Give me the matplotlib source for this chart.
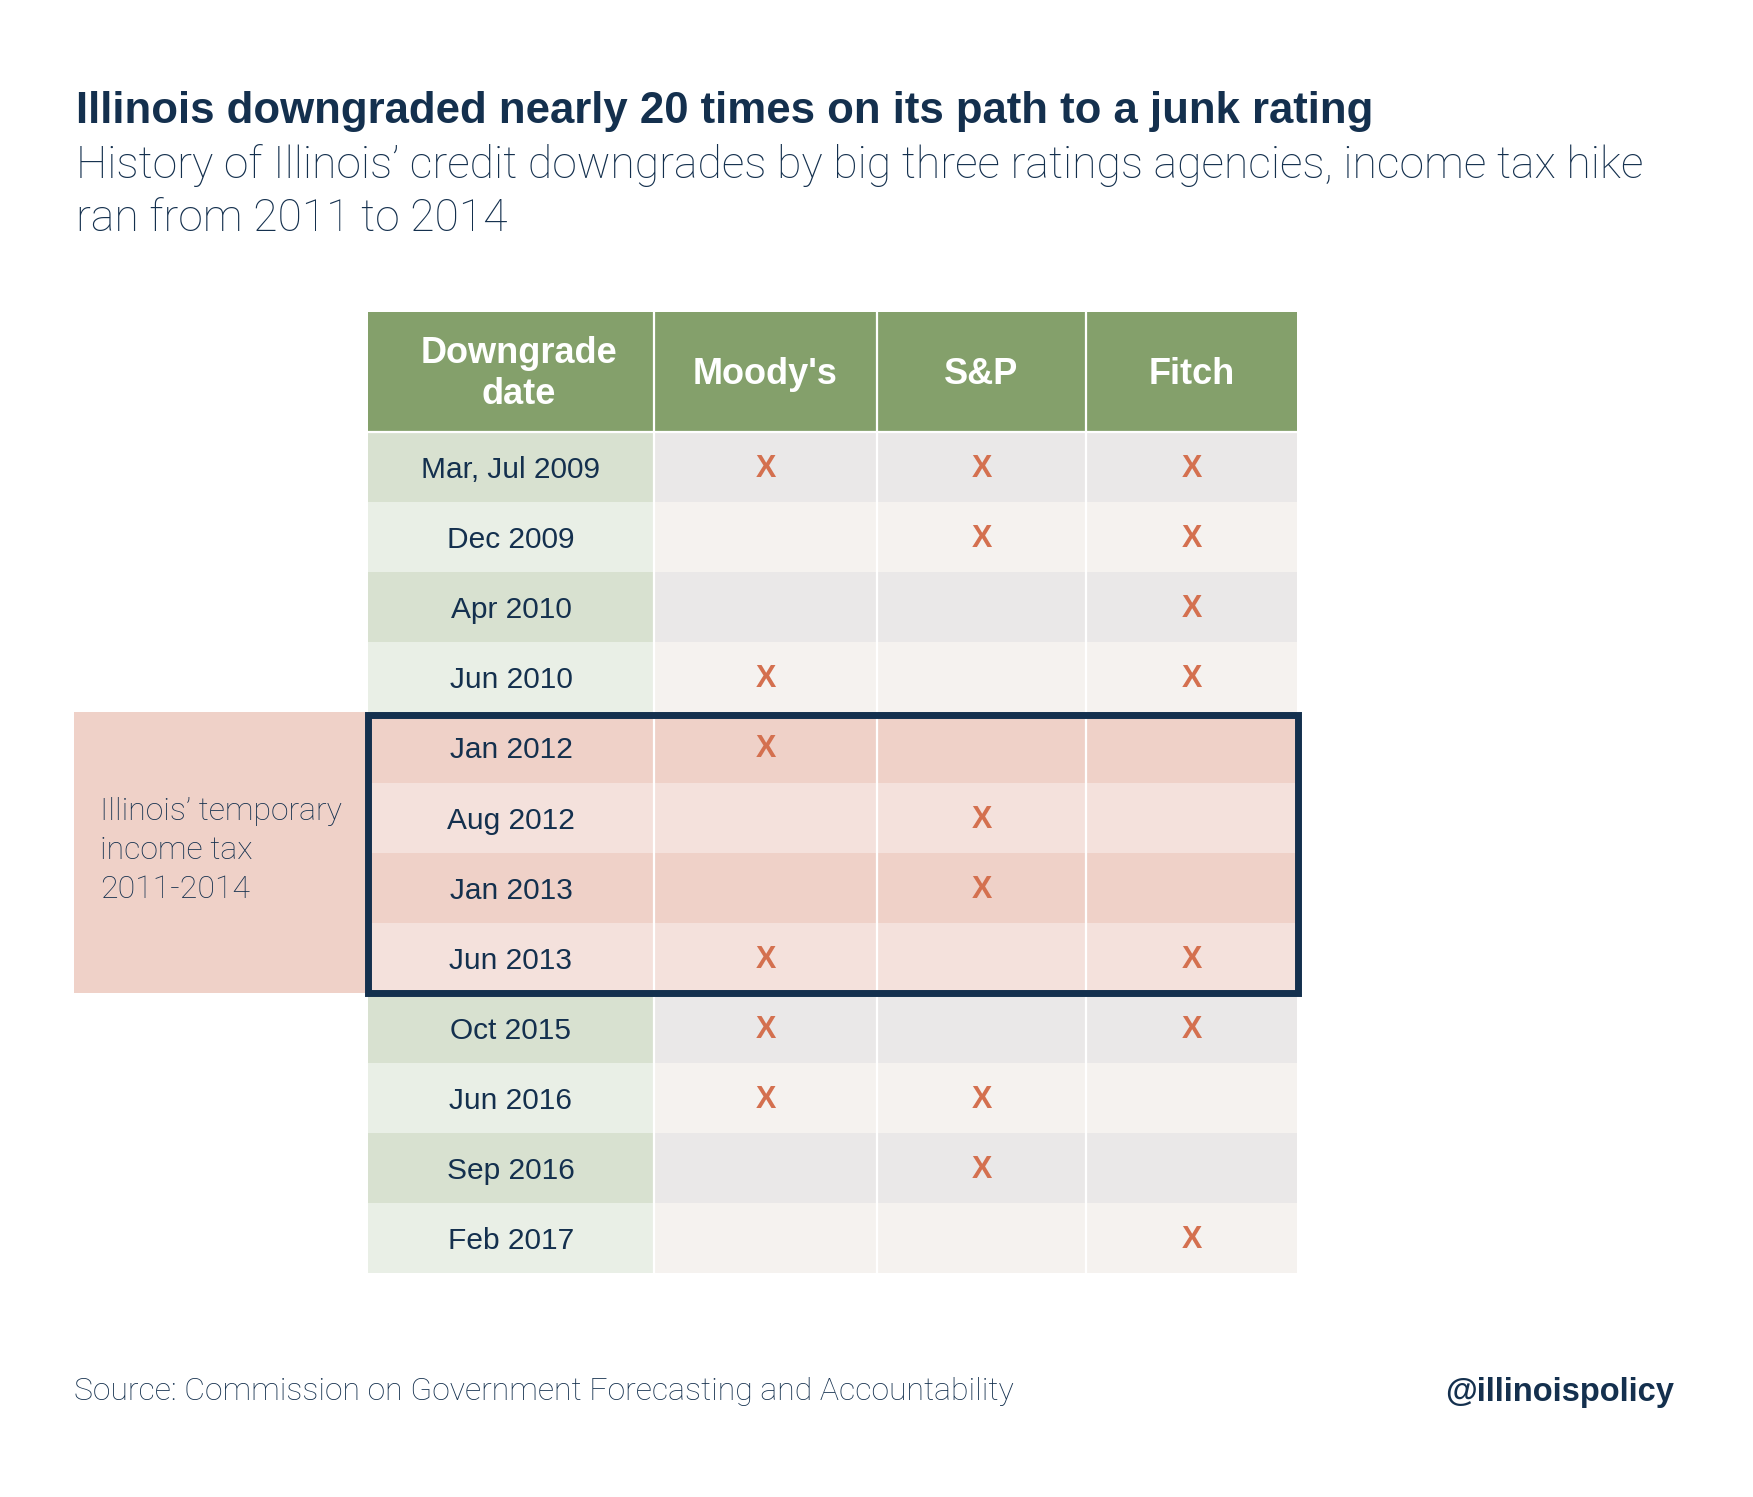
import matplotlib
matplotlib.use("Agg")
import matplotlib.pyplot as plt
from matplotlib.patches import Rectangle

# data
dates = ["Mar, Jul 2009", "Dec 2009", "Apr 2010", "Jun 2010",
         "Jan 2012", "Aug 2012", "Jan 2013", "Jun 2013",
         "Oct 2015", "Jun 2016", "Sep 2016", "Feb 2017"]
agencies = ["Moody's", "S&P", "Fitch"]
moodys = [1, 0, 0, 1, 1, 0, 0, 1, 1, 1, 0, 0]
sp     = [1, 1, 0, 0, 0, 1, 1, 0, 0, 1, 1, 0]
fitch  = [1, 1, 1, 1, 0, 0, 0, 1, 1, 0, 0, 1]
tax_years = (2011, 2014)

title = "Illinois downgraded nearly 20 times on its path to a junk rating"
subtitle = ("History of Illinois\u2019 credit downgrades by big three ratings agencies, income tax hike\n"
            "ran from 2011 to 2014")
source = "Source: Commission on Government Forecasting and Accountability"
handle = "@illinoispolicy"
side_note = "Illinois\u2019 temporary\nincome tax\n2011-2014"

# colours
NAVY = "#14304e"
HEAD = "#84a06b"
XCOL = "#d4704f"
date_bg = ["#d8e1d0", "#e9efe6"]
cell_bg = ["#eae8e8", "#f5f2ef"]
tax_bg = ["#efd1c8", "#f4e1dc"]

W, H = 1753, 1497
fig = plt.figure(figsize=(W / 100, H / 100), dpi=100)
ax = fig.add_axes([0, 0, 1, 1])
ax.set_xlim(0, W)
ax.set_ylim(H, 0)
ax.axis("off")

# layout (pixels)
x0 = 368
col_w = [286, 223, 209, 211]
head_y, head_h = 312, 120
row_h = 70.1
col_x = [x0]
for w in col_w:
    col_x.append(col_x[-1] + w)

main_font = ["Liberation Sans", "DejaVu Sans"]
light_font = ["Roboto", "Liberation Sans", "DejaVu Sans"]

# header
headers = ["Downgrade\ndate"] + agencies
for j, h in enumerate(headers):
    ax.add_patch(Rectangle((col_x[j], head_y), col_w[j], head_h, color=HEAD, lw=0))
    ax.text(col_x[j] + col_w[j] / 2 + (8 if j == 0 else 0), head_y + head_h / 2 + 2, h,
            ha="center", va="center", color="white", fontsize=26, fontweight="bold",
            family=main_font, linespacing=1.2)

marks = [moodys, sp, fitch]
tax_rows = []
for i, d in enumerate(dates):
    y = head_y + head_h + i * row_h
    year = int(d[-4:])
    in_tax = tax_years[0] <= year <= tax_years[1]
    if in_tax:
        tax_rows.append(i)
    k = i % 2
    for j in range(4):
        if in_tax:
            c = tax_bg[k]
        elif j == 0:
            c = date_bg[k]
        else:
            c = cell_bg[k]
        ax.add_patch(Rectangle((col_x[j], y), col_w[j], row_h, color=c, lw=0))
    ax.text(col_x[0] + col_w[0] / 2, y + row_h / 2 + 3, d, ha="center", va="center",
            color=NAVY, fontsize=21.5, family=main_font)
    for j, m in enumerate(marks):
        if m[i]:
            ax.text(col_x[j + 1] + col_w[j + 1] / 2, y + row_h / 2 + 2, "X", ha="center",
                    va="center", color=XCOL, fontsize=22, fontweight="bold", family=main_font)

table_bottom = head_y + head_h + len(dates) * row_h
# white separators
for xc in col_x[1:-1]:
    ax.plot([xc, xc], [head_y, table_bottom], color="white", lw=1.6, zorder=2)
ax.plot([col_x[0], col_x[-1]], [head_y + head_h, head_y + head_h], color="white", lw=1.6,
        zorder=2)

# tax period highlight
ty0 = head_y + head_h + tax_rows[0] * row_h
ty1 = head_y + head_h + (tax_rows[-1] + 1) * row_h
ax.add_patch(Rectangle((74, ty0), x0 - 74, ty1 - ty0, color=tax_bg[0], lw=0))
ax.add_patch(Rectangle((x0, ty0 + 3), col_x[-1] - x0 + 1, ty1 - ty0 - 3, fill=False,
                       ec=NAVY, lw=5, joinstyle="miter", zorder=3))
ax.text(100, (ty0 + ty1) / 2 - 2, side_note, ha="left", va="center", color=NAVY,
        fontsize=23, fontweight="light", family=light_font, linespacing=1.45)

# titles
ax.text(76, 112, title, ha="left", va="center", color=NAVY, fontsize=31.5,
        fontweight="bold", family=main_font)
ax.text(76, 192, subtitle, ha="left", va="center", color=NAVY, fontsize=32,
        fontweight="light", family=light_font, linespacing=1.3)

# footer
ax.text(74, 1392, source, ha="left", va="center", color=NAVY, fontsize=23,
        fontweight="light", family=light_font)
ax.text(1674, 1392, handle, ha="right", va="center", color=NAVY, fontsize=23.5,
        fontweight="bold", family=main_font)

fig.savefig("out.png", dpi=100, facecolor="white")
